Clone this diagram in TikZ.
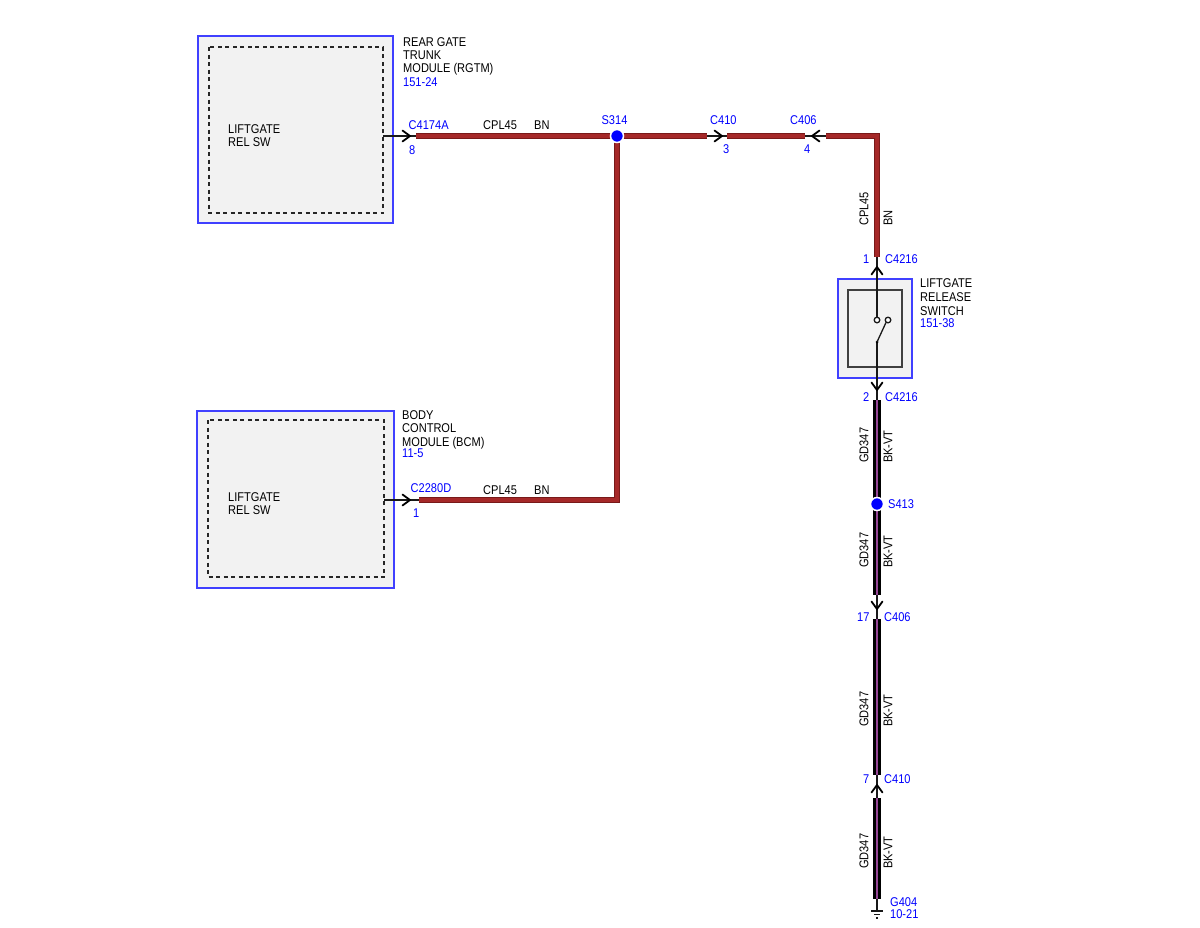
\documentclass[tikz,border=0pt]{standalone}
\usepackage{fontspec}
\setmainfont{Liberation Sans}[FakeStretch=0.87]
\definecolor{pinblue}{RGB}{0,0,255}
\definecolor{boxblue}{RGB}{64,64,255}
\definecolor{boxgray}{RGB}{242,242,242}
\definecolor{wirebrown}{RGB}{165,40,40}
\definecolor{wiredark}{RGB}{120,25,25}
\definecolor{wireviolet}{RGB}{150,70,150}
\begin{document}
\begin{tikzpicture}[x=1pt,y=-1pt,
  lbl/.style={font=\fontsize{12.7}{15}\selectfont, inner sep=0pt, text=black, anchor=base west},
  blbl/.style={lbl, text=pinblue},
  vlbl/.style={font=\fontsize{12.7}{15}\selectfont, inner sep=0pt, text=black, rotate=90, anchor=west},
  module/.style={draw=boxblue, fill=boxgray, line width=1.2pt},
  dashbox/.style={draw=black!85, dash pattern=on 4pt off 3.5pt, line width=1.1pt},
  thin/.style={draw=black!90, line width=1.1pt},
  bnwire/.style={draw=wiredark, line width=0.6pt, double=wirebrown, double distance=4.6pt},
  bkvtwire/.style={draw=black, line width=2.6pt, double=wireviolet, double distance=2pt},
  splice/.style={circle, fill=pinblue, draw=white, line width=1.5pt, minimum size=13pt, inner sep=0pt},
  chev/.pic={\draw[line width=1.8pt, line cap=round, line join=round] (-7.5,-5.5) .. controls (-3,-3) .. (0,0) .. controls (-3,3) .. (-7.5,5.5);}
]
\useasboundingbox (0,0) rectangle (1200,927);

% ---- modules
\draw[module] (198,36) rectangle (393,223);
\draw[dashbox] (209,47) rectangle (383,213);
\draw[module] (197,411) rectangle (394,588);
\draw[dashbox] (208,420) rectangle (384,577);

% switch component
\draw[module] (838,279) rectangle (912,378);
\draw[draw=black!75, line width=1.6pt] (848,290) rectangle (902,367);

% ---- coordinates
\coordinate (rgtmout) at (383,136);
\coordinate (c4174a) at (416,136);
\coordinate (bcmout) at (384,500);
\coordinate (c2280d) at (419,500);
\coordinate (bcmcorner) at (617,500);
\coordinate (c410a) at (707,136);
\coordinate (c410b) at (727,136);
\coordinate (c406a) at (805,136);
\coordinate (c406b) at (826,136);
\coordinate (corner) at (877,136);
\coordinate (c4216a) at (877,257);
\coordinate (swtop) at (877,317);
\coordinate (swbot) at (877,342);
\coordinate (c4216b) at (877,400);
\coordinate (c406c) at (877,595);
\coordinate (c406d) at (877,619);
\coordinate (c410c) at (877,775);
\coordinate (c410d) at (877,798);
\coordinate (gwire) at (877,899);
\coordinate (gnd) at (877,911);

% ---- thin connector lines
\draw[thin] (rgtmout) -- (c4174a);
\draw[thin] (bcmout) -- (c2280d);
\draw[thin] (c410a) -- (c406b);
\draw[thin] (c4216a) -- (swtop);
\draw[thin] (swbot) -- (gnd);

% switch contacts
\draw[draw=black!90, line width=1.3pt, fill=white] (877,320) circle (2.8pt);
\draw[draw=black!90, line width=1.3pt, fill=white] (888,320) circle (2.8pt);
\fill[black] (swbot) circle (1.5pt);
\draw[draw=black!90, line width=1.3pt] (swbot) -- (886,322.5);

% ground symbol
\draw[thin] (871,911) -- (883,911);
\draw[thin] (874,914.5) -- (880,914.5);
\draw[thin] (876,918) -- (878,918);

% ---- wires
\coordinate (s314c) at (617,136);
\draw[bnwire] (c4174a) -- (s314c);
\draw[bnwire] (s314c) -- (c410a);
\draw[bnwire] (c410b) -- (c406a);
\draw[bnwire] (c406b) -- (corner) -- (c4216a);
\draw[bnwire] (s314c) -- (bcmcorner) -- (c2280d);
\draw[bkvtwire] (c4216b) -- (c406c);
\draw[bkvtwire] (c406d) -- (c410c);
\draw[bkvtwire] (c410d) -- (gwire);
\node[splice] (s314) at (s314c) {};
\node[splice] (s413) at (877,504) {};

% ---- connector chevrons
\pic at (410,136) {chev};
\pic at (410,500) {chev};
\pic at (722,136) {chev};
\pic[rotate=180] at (812,136) {chev};
\pic[rotate=90] at (877,267) {chev};
\pic[rotate=-90] at (877,390) {chev};
\pic[rotate=-90] at (877,609) {chev};
\pic[rotate=90] at (877,785) {chev};

% ---- labels: RGTM
\node[lbl] (t1) at (403,46) {REAR GATE};
\node[lbl] (t2) at (403,59.5) {TRUNK};
\node[lbl] (t3) at (403,72.5) {MODULE (RGTM)};
\node[blbl] (t4) at (403,86.5) {151-24};
\node[lbl] (t5) at (228,133) {LIFTGATE};
\node[lbl] (t6) at (228,146.5) {REL SW};
\node[blbl] (t7) at (408.5,129) {C4174A};
\node[blbl] (t8) at (409,154.5) {8};
\node[lbl] (t9) at (483,129) {CPL45};
\node[lbl] (t10) at (534,129) {BN};
\node[blbl, anchor=base] (t11) at (614.5,124.8) {S314};
\node[blbl] (t12) at (710,124.8) {C410};
\node[blbl] (t13) at (723,153.8) {3};
\node[blbl] (t14) at (790,124.8) {C406};
\node[blbl] (t15) at (804,153.8) {4};

% ---- labels: BCM
\node[lbl] (b1) at (402,419.8) {BODY};
\node[lbl] (b2) at (402,432.8) {CONTROL};
\node[lbl] (b3) at (402,446.5) {MODULE (BCM)};
\node[blbl] (b4) at (402,457.8) {11-5};
\node[lbl] (b5) at (228,501.5) {LIFTGATE};
\node[lbl] (b6) at (228,514.8) {REL SW};
\node[blbl] (b7) at (410.5,492.8) {C2280D};
\node[blbl] (b8) at (413,517.8) {1};
\node[lbl] (b9) at (483,494.8) {CPL45};
\node[lbl] (b10) at (534,494.8) {BN};

% ---- labels: vertical run
\node[vlbl] (v1) at (864,226) {CPL45};
\node[vlbl] (v2) at (888,226) {BN};
\node[blbl] (p1) at (863,263.8) {1};
\node[blbl] (p1c) at (885,263.8) {C4216};
\node[lbl] (s1) at (920,287.8) {LIFTGATE};
\node[lbl] (s2) at (920,301.8) {RELEASE};
\node[lbl] (s3) at (920,315.8) {SWITCH};
\node[blbl] (s4) at (920,327.8) {151-38};
\node[blbl] (p2) at (863,401.8) {2};
\node[blbl] (p2c) at (885,401.8) {C4216};
\node[vlbl] (g1) at (864,463) {GD347};
\node[vlbl] (k1) at (888,463) {BK-VT};
\node[blbl] (s413l) at (888,508.8) {S413};
\node[vlbl] (g2) at (864,568) {GD347};
\node[vlbl] (k2) at (888,568) {BK-VT};
\node[blbl] (p17) at (857,621.8) {17};
\node[blbl] (p17c) at (884,621.8) {C406};
\node[vlbl] (g3) at (864,727) {GD347};
\node[vlbl] (k3) at (888,727) {BK-VT};
\node[blbl] (p7) at (863,783.8) {7};
\node[blbl] (p7c) at (884,783.8) {C410};
\node[vlbl] (g4) at (864,869) {GD347};
\node[vlbl] (k4) at (888,869) {BK-VT};
\node[blbl] (gl1) at (890,906.8) {G404};
\node[blbl] (gl2) at (890,918.8) {10-21};
\end{tikzpicture}
\end{document}
